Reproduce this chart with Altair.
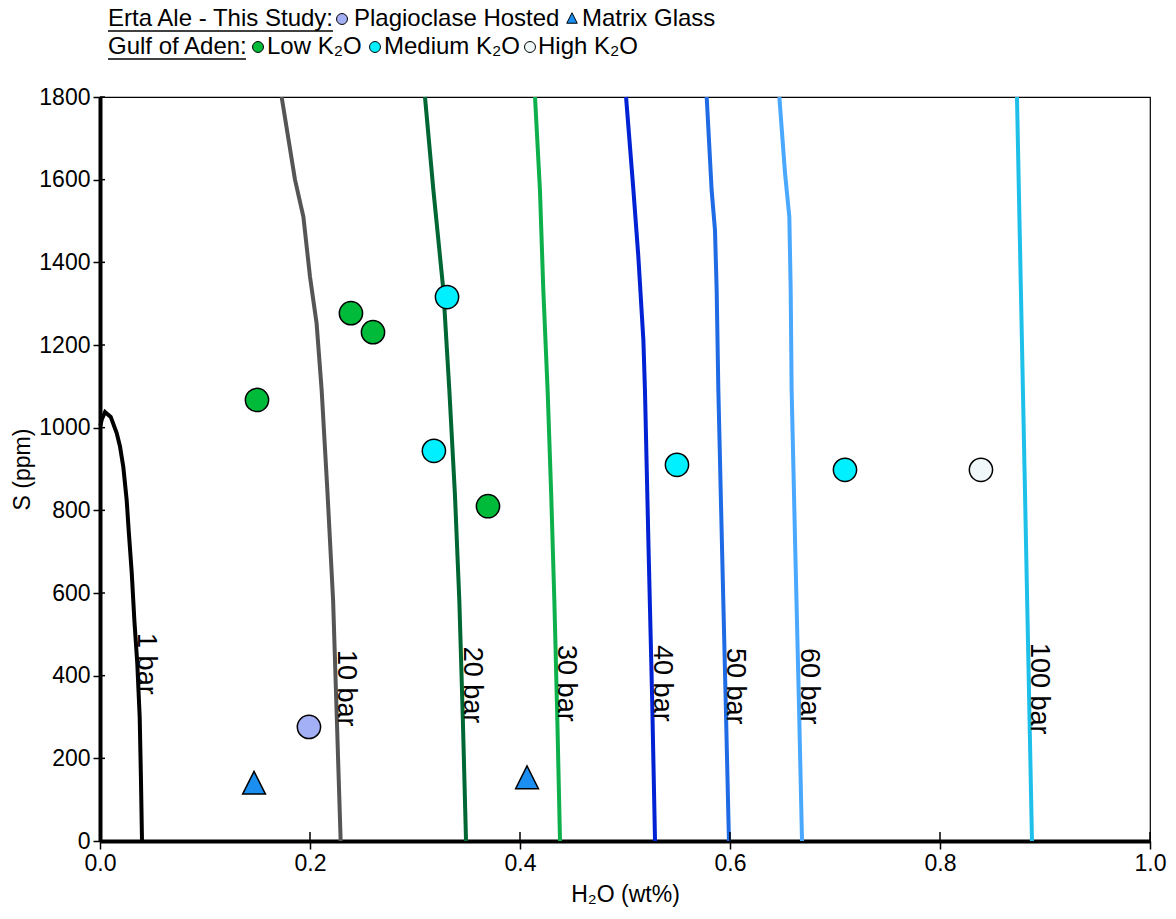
import altair as alt
import pandas as pd
import numpy as np

FONT = "Liberation Sans"

# ---------------- isobars (H2O wt%, S ppm) ----------------
p_names = ["1 bar", "10 bar", "20 bar", "30 bar", "40 bar", "50 bar", "60 bar", "100 bar"]
p_colors = ["#000000", "#555555", "#006633", "#0DB04B", "#0022D4", "#1F6BE6", "#4AA8FF", "#1EC0EA"]

bar1_h2o = [0.0400, 0.0390, 0.0378, 0.0355, 0.0327, 0.0302, 0.0275, 0.0254, 0.0222, 0.0190, 0.0159, 0.0102, 0.0048, 0.0016, 0.0004]
bar1_s = [0, 150, 300, 430, 535, 650, 745, 825, 905, 955, 987, 1026, 1038, 1019, 1005]

bar10_h2o = [0.173, 0.1857, 0.1937, 0.200, 0.2063, 0.2111, 0.2165, 0.222, 0.2255, 0.2292]
bar10_s = [1800, 1600, 1510, 1365, 1252, 1091, 850, 583, 300, 0]

bar20_h2o = [0.3095, 0.3175, 0.327, 0.3327, 0.338, 0.3422, 0.3455, 0.3486]
bar20_s = [1800, 1575, 1333, 1091, 840, 583, 300, 0]

bar30_h2o = [0.4143, 0.419, 0.4222, 0.4263, 0.4297, 0.4327, 0.4355, 0.4381]
bar30_s = [1800, 1575, 1333, 1091, 840, 583, 300, 0]

bar40_h2o = [0.501, 0.508, 0.5127, 0.5175, 0.519, 0.5225, 0.5258, 0.5286]
bar40_s = [1800, 1575, 1414, 1212, 1091, 700, 350, 0]

bar50_h2o = [0.5778, 0.5825, 0.5857, 0.5873, 0.5889, 0.5925, 0.5958, 0.599]
bar50_s = [1800, 1575, 1478, 1333, 1091, 700, 350, 0]

bar60_h2o = [0.647, 0.6524, 0.6565, 0.6578, 0.6587, 0.6622, 0.6655, 0.6686]
bar60_s = [1800, 1616, 1510, 1333, 1091, 700, 350, 0]

bar100_h2o = [0.8733, 0.8805, 0.8876]
bar100_s = [1800, 900, 0]

# S value (ppm) where each isobar label begins
label_start_s = [503, 462, 470, 474, 474, 467, 467, 479]

# ---------------- samples ----------------
plag_h2o = [0.199]
plag_s = [276]
matrix_h2o = [0.1467, 0.4067]
matrix_s = [141, 154]
low_h2o = [0.1495, 0.239, 0.26, 0.3695]
low_s = [1067, 1277, 1231, 810]
med_h2o = [0.3305, 0.318, 0.5495, 0.7095]
med_s = [1316, 944, 910, 898]
high_h2o = [0.839]
high_s = [898]

x_ticks = [0.0, 0.2, 0.4, 0.6, 0.8, 1.0]
y_ticks = [0, 200, 400, 600, 800, 1000, 1200, 1400, 1600, 1800]

# ---------------- tables ----------------
iso_x = [bar1_h2o, bar10_h2o, bar20_h2o, bar30_h2o, bar40_h2o, bar50_h2o, bar60_h2o, bar100_h2o]
iso_y = [bar1_s, bar10_s, bar20_s, bar30_s, bar40_s, bar50_s, bar60_s, bar100_s]
rows = []
for name, xs, ys in zip(p_names, iso_x, iso_y):
    for i, (a, b) in enumerate(zip(xs, ys)):
        rows.append({"p": name, "i": i, "h2o": a, "s": b})
iso_df = pd.DataFrame(rows)

lab_rows = []
for name, xs, ys, ls in zip(p_names, iso_x, iso_y, label_start_s):
    pts = sorted([(b, a) for a, b in zip(xs, ys) if b <= 1000])
    sy = [q[0] for q in pts]
    sx = [q[1] for q in pts]
    lab_rows.append({"p": name, "h2o": float(np.interp(ls, sy, sx)), "s": ls})
lab_df = pd.DataFrame(lab_rows)

circ_groups = ["Plagioclase Hosted", "Low K2O", "Medium K2O", "High K2O"]
circ_colors = ["#A4B0F5", "#00BA3A", "#00F0FF", "#F0F8FA"]
crows = []
for g, xs, ys in zip(circ_groups, [plag_h2o, low_h2o, med_h2o, high_h2o], [plag_s, low_s, med_s, high_s]):
    for a, b in zip(xs, ys):
        crows.append({"g": g, "h2o": a, "s": b})
circ_df = pd.DataFrame(crows)
tri_df = pd.DataFrame({"h2o": matrix_h2o, "s": matrix_s})

xs_ = alt.Scale(domain=[0, 1], nice=False, zero=False)
ys_ = alt.Scale(domain=[0, 1800], nice=False, zero=False)

x_axis = alt.Axis(values=x_ticks, format=".1f", title="H₂O (wt%)", grid=False,
                  tickSize=8, tickWidth=1.5, tickColor="black", domainColor="black",
                  domainWidth=4, labelFontSize=23, labelColor="black", labelPadding=3,
                  labelFlush=False, labelOverlap=False, labelFont=FONT,
                  titleFont=FONT, titleFontSize=23, titleFontWeight="normal",
                  titleColor="black", titlePadding=8)
y_axis = alt.Axis(values=y_ticks, format="d", title="S (ppm)", grid=False,
                  tickSize=7, tickWidth=1.5, tickColor="black", domainColor="black",
                  domainWidth=4, labelFontSize=23, labelColor="black", labelPadding=3,
                  labelFlush=False, labelOverlap=False, labelFont=FONT,
                  titleFont=FONT, titleFontSize=23, titleFontWeight="normal",
                  titleColor="black", titlePadding=4)

X = alt.X("h2o:Q", scale=xs_, axis=x_axis)
Y = alt.Y("s:Q", scale=ys_, axis=y_axis)

lines = alt.Chart(iso_df).mark_line(strokeWidth=4).encode(
    x=X, y=Y,
    color=alt.Color("p:N", scale=alt.Scale(domain=p_names, range=p_colors), legend=None),
    order=alt.Order("i:Q"),
)

labels = alt.Chart(lab_df).mark_text(angle=90, align="left", baseline="alphabetic",
                                     dy=-3, fontSize=27, font=FONT, color="black").encode(
    x=X, y=Y, text="p:N",
)

circles = alt.Chart(circ_df).mark_point(shape="circle", filled=True, size=540, opacity=1,
                                        stroke="black", strokeWidth=1.5).encode(
    x=X, y=Y,
    fill=alt.Fill("g:N", scale=alt.Scale(domain=circ_groups, range=circ_colors), legend=None),
)

tris = alt.Chart(tri_df).mark_point(shape="M0,-1L-1,1L1,1Z", filled=True, size=520, opacity=1,
                                    fill="#1B8EF2", stroke="black", strokeWidth=1.5).encode(
    x=X, y=Y,
)

xt_df = pd.DataFrame({"h2o": x_ticks})
yt_df = pd.DataFrame({"s": y_ticks})
x_in = alt.Chart(xt_df).mark_rule(color="black", strokeWidth=1.5).encode(
    x=X, y=alt.value(744), y2=alt.value(735))
y_in = alt.Chart(yt_df).mark_rule(color="black", strokeWidth=1.5).encode(
    y=Y, x=alt.value(0), x2=alt.value(5))

# ---------------- custom legend ----------------
dummy = pd.DataFrame({"d": [0]})


def ltext(t, x, y):
    return alt.Chart(dummy).mark_text(text=t, align="left", baseline="middle", fontSize=24,
                                      font=FONT, color="black").encode(
        x=alt.value(x), y=alt.value(y))


def lsym(shape, fill, x, y, size):
    return alt.Chart(dummy).mark_point(shape=shape, filled=True, size=size, opacity=1,
                                       fill=fill, stroke="black", strokeWidth=1).encode(
        x=alt.value(x), y=alt.value(y))


def uline(x1, x2, y):
    return alt.Chart(dummy).mark_rule(color="black", strokeWidth=1.5).encode(
        x=alt.value(x1), x2=alt.value(x2), y=alt.value(y))


legend = [
    ltext("Erta Ale - This Study:", 8, -78), uline(8, 233, -66),
    lsym("circle", "#A4B0F5", 242, -78, 120), ltext("Plagioclase Hosted", 254, -78),
    lsym("M0,-1L-1,1L1,1Z", "#1B8EF2", 472, -79, 110), ltext("Matrix Glass", 482, -78),
    ltext("Gulf of Aden:", 8, -50), uline(8, 146, -38),
    lsym("circle", "#00BA3A", 158, -50, 120), ltext("Low K₂O", 167, -50),
    lsym("circle", "#00F0FF", 275, -50, 120), ltext("Medium K₂O", 284, -50),
    lsym("circle", "#F0F8FA", 430, -50, 120), ltext("High K₂O", 438, -50),
]

chart = alt.layer(lines, labels, x_in, y_in, circles, tris, *legend).properties(
    width=1050, height=744,
    autosize=alt.AutoSizeParams(type="none"),
    padding={"left": 100, "top": 97, "right": 26, "bottom": 78},
).configure(font=FONT).configure_view(stroke="black", strokeWidth=1.2)

chart.save("out.html", embed_options={"renderer": "svg", "actions": False})
